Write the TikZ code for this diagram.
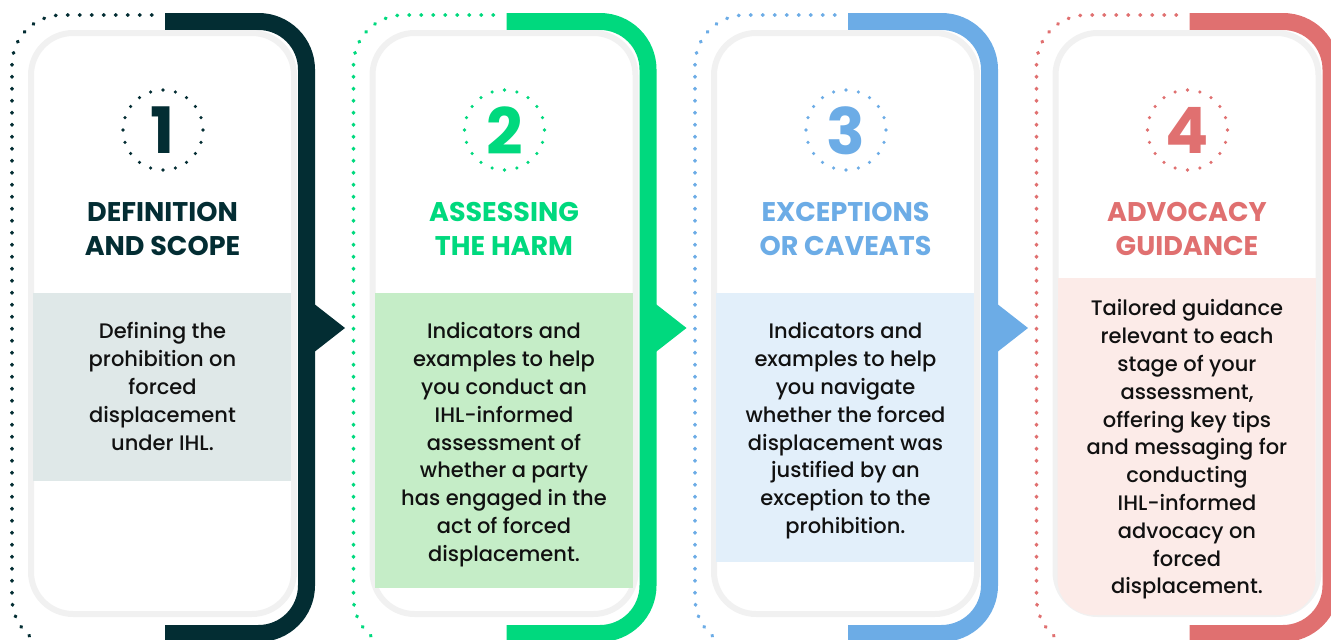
\documentclass[tikz,border=0pt]{standalone}
\usepackage{fontspec}
\setmainfont{Poppins}[UprightFont={* Medium}, BoldFont={* Bold}]
\usepackage{xcolor}
\usetikzlibrary{math}
\definecolor{cone}{RGB}{3,45,51}
\definecolor{ctwo}{RGB}{0,217,126}
\definecolor{cthree}{RGB}{108,172,230}
\definecolor{cfour}{RGB}{224,112,112}
\definecolor{bone}{RGB}{223,232,232}
\definecolor{btwo}{RGB}{197,237,199}
\definecolor{bthree}{RGB}{226,239,250}
\definecolor{bfour}{RGB}{252,235,232}
\definecolor{cardgray}{RGB}{241,241,241}
\definecolor{ink}{RGB}{17,17,17}
\tikzset{
  dotline/.style={line width=3.6pt, line cap=round, dash pattern=on 0.6pt off 11.4pt},
  band/.style={line width=17pt},
  card/.style={draw=cardgray, line width=6pt, fill=white, rounded corners=42pt},
  title/.style={font=\fontsize{27}{34}\selectfont\bfseries, align=center, inner sep=0pt},
  body/.style={font=\fontsize{21}{27.8}\selectfont, align=center, text=ink, anchor=north, inner sep=0pt},
  digit/.style={font=\fontsize{64}{64}\selectfont\bfseries, inner sep=0pt}
}

\begin{document}
\begin{tikzpicture}[x=1pt,y=-1pt]
\tikzmath{
\W=341.5;
\R=40;
integer \Nd;
\Nd=20;
}
\clip (0,0) rectangle (1331,640);

\foreach \i/\n/\col/\bx/\yb in {0/1/cone/bone/481, 1/2/ctwo/btwo/588, 2/3/cthree/bthree/562, 3/4/cfour/bfour/615}{
  \tikzmath{\x=\i*\W;}
  %dotted outline
  \draw[dotline,color=\col,rounded corners=50pt] (\x+152,15) -| (\x+12,648) -- (\x+160,648);
  %band and arrow
  \draw[band,color=\col,rounded corners=48pt] (\x+165,21.5) -| (\x+306.5,633.5) -- (\x+165,633.5);
  \ifnum\i<3
    \fill[\col] (\x+313,303) -- (\x+345,328) -- (\x+313,353) -- cycle;
  \fi
  %card
  \draw[card] (\x+31,33) rectangle (\x+294,614);
  %text box
  \ifnum\i<3
    \fill[\bx] (\x+33,293) rectangle (\x+291,\yb);
  \else
    \fill[\bx,rounded corners=36pt] (\x+33,278) rectangle (\x+291,\yb);
    \fill[\bx] (\x+33,278) rectangle (\x+291,340);
  \fi
  %number circle
  \foreach \k in {1,...,\Nd}{
    \fill[\col,shift={(\x+163,130)}] (\k*360/\Nd:\R) circle(1.8);
  }
  \node[digit,color=\col] (num\n) at (\x+163,130.5) {\n};
}

%titles
\node[title,color=cone] (title1) at (162.5,229) {DEFINITION\\AND SCOPE};
\node[title,color=ctwo] (title2) at (504,229) {ASSESSING\\THE HARM};
\node[title,color=cthree] (title3) at (845.5,229) {EXCEPTIONS\\OR CAVEATS};
\node[title,color=cfour] (title4) at (1187,229) {ADVOCACY\\GUIDANCE};

%texts
\node[body] (text1) at (162.5,322.5) {Defining the\\prohibition on\\forced\\displacement\\under IHL.};
\node[body] (text2) at (504,322.5) {Indicators and\\examples to help\\you conduct an\\IHL-informed\\assessment of\\whether a party\\has engaged in the\\act of forced\\displacement.};
\node[body] (text3) at (845.5,322.5) {Indicators and\\examples to help\\you navigate\\whether the forced\\displacement was\\justified by an\\exception to the\\prohibition.};
\node[body] (text4) at (1187,299.5) {Tailored guidance\\relevant to each\\stage of your\\assessment,\\offering key tips\\and messaging for\\conducting\\IHL-informed\\advocacy on\\forced\\displacement.};

\end{tikzpicture}
\end{document}
